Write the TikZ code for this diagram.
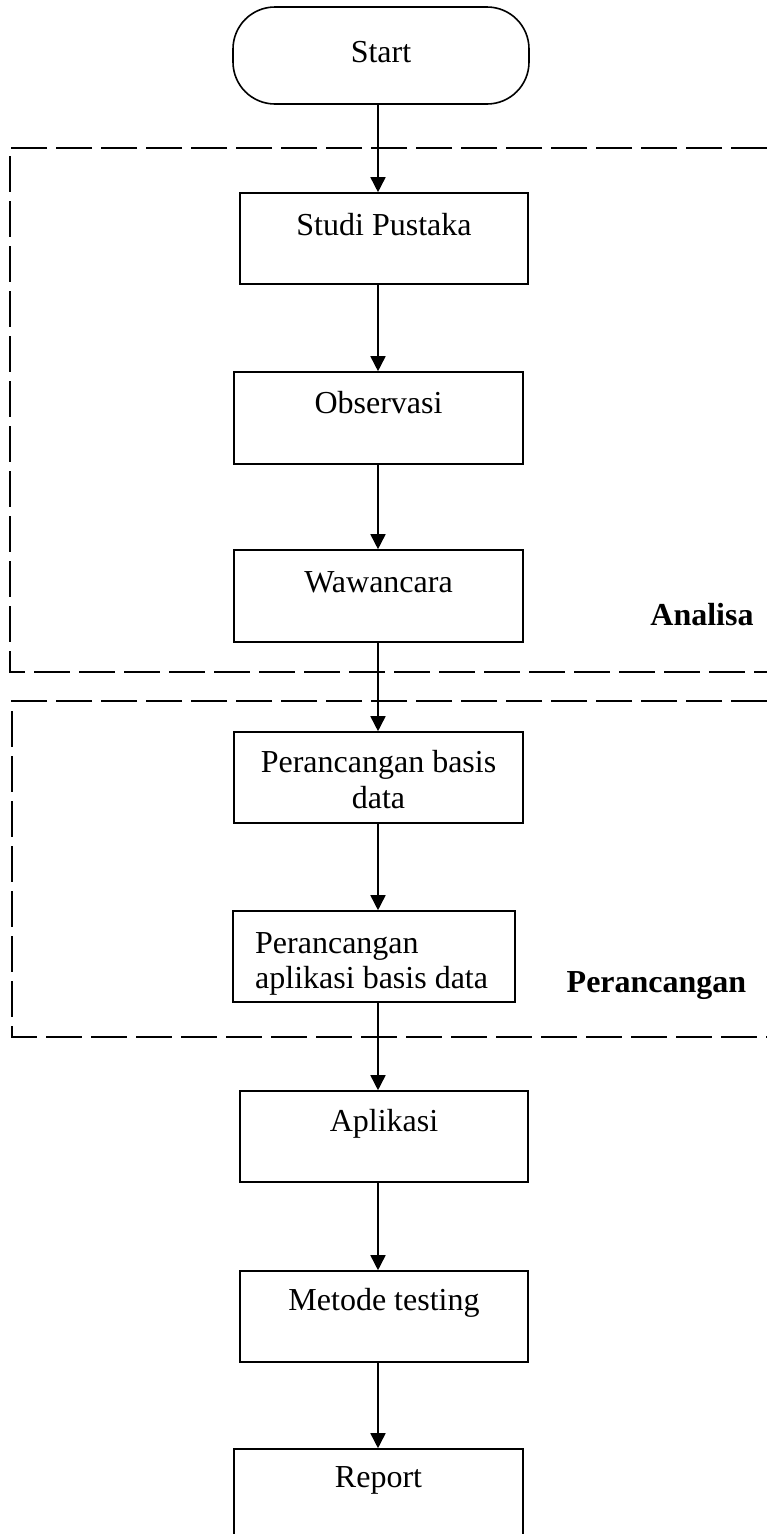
\documentclass[tikz,border=0pt]{standalone}
\usepackage{fontspec}
\setmainfont{Liberation Serif}
\usetikzlibrary{arrows.meta}
\begin{document}
\begin{tikzpicture}[x=1pt,y=-1pt,
  box/.style={draw, line width=1.6pt, rectangle, inner sep=0pt},
  term/.style={draw, line width=1.6pt, rectangle, rounded corners=42pt, inner sep=0pt},
  txt/.style={font=\fontsize{32pt}{38pt}\selectfont, inner sep=0pt, anchor=base},
  ltxt/.style={font=\fontsize{32pt}{38pt}\selectfont, inner sep=0pt, anchor=base west},
  btxt/.style={font=\fontsize{32pt}{38pt}\selectfont\bfseries, inner sep=0pt, anchor=base},
  arr/.style={-{Triangle[length=15pt,width=15pt]}, line width=1.6pt},
  frame/.style={line width=1.6pt, dash pattern=on 36pt off 9pt}
]
\useasboundingbox (0,0) rectangle (767,1534);

% process frames
\draw[frame] (767,148) -- (10,148) -- (10,672) -- (767,672);
\draw[frame] (767,701) -- (12,701) -- (12,1037) -- (767,1037);

% boxes
\node[term, minimum width=296pt, minimum height=97pt] (start) at (381,55.5) {};
\node[box, minimum width=288pt, minimum height=91pt] (sp) at (384,238.5) {};
\node[box, minimum width=289pt, minimum height=92pt] (ob) at (378.5,418) {};
\node[box, minimum width=289pt, minimum height=92pt] (ww) at (378.5,596) {};
\node[box, minimum width=289pt, minimum height=91pt] (pbd) at (378.5,777.5) {};
\node[box, minimum width=282pt, minimum height=91pt] (pabd) at (374,956.5) {};
\node[box, minimum width=288pt, minimum height=91pt] (ap) at (384,1136.5) {};
\node[box, minimum width=288pt, minimum height=91pt] (mt) at (384,1316.5) {};
\node[box, minimum width=289pt, minimum height=100pt] (rp) at (378.5,1499) {};

% texts
\node[txt] (tstart) at (381,62) {Start};
\node[txt] (tsp) at (384,235) {Studi Pustaka};
\node[txt] (tob) at (378.5,413) {Observasi};
\node[txt] (tww) at (378.5,592) {Wawancara};
\node[txt] (tpbd1) at (378.5,772) {Perancangan basis};
\node[txt] (tpbd2) at (378.5,808) {data};
\node[ltxt] (tpabd1) at (255,953) {Perancangan};
\node[ltxt] (tpabd2) at (255,988) {aplikasi basis data};
\node[txt] (tap) at (384,1131) {Aplikasi};
\node[txt] (tmt) at (384,1310) {Metode testing};
\node[txt] (trp) at (378.5,1487) {Report};

\node[btxt] (lan) at (702,625) {Analisa};
\node[btxt] (lpr) at (656.5,992) {Perancangan};

% connectors
\coordinate (ax) at (378,0);
\draw[arr] (start.south -| ax) -- (sp.north -| ax);
\draw[arr] (sp.south -| ax) -- (ob.north -| ax);
\draw[arr] (ob.south -| ax) -- (ww.north -| ax);
\draw[arr] (ww.south -| ax) -- (pbd.north -| ax);
\draw[arr] (pbd.south -| ax) -- (pabd.north -| ax);
\draw[arr] (pabd.south -| ax) -- (ap.north -| ax);
\draw[arr] (ap.south -| ax) -- (mt.north -| ax);
\draw[arr] (mt.south -| ax) -- (rp.north -| ax);
\end{tikzpicture}
\end{document}
